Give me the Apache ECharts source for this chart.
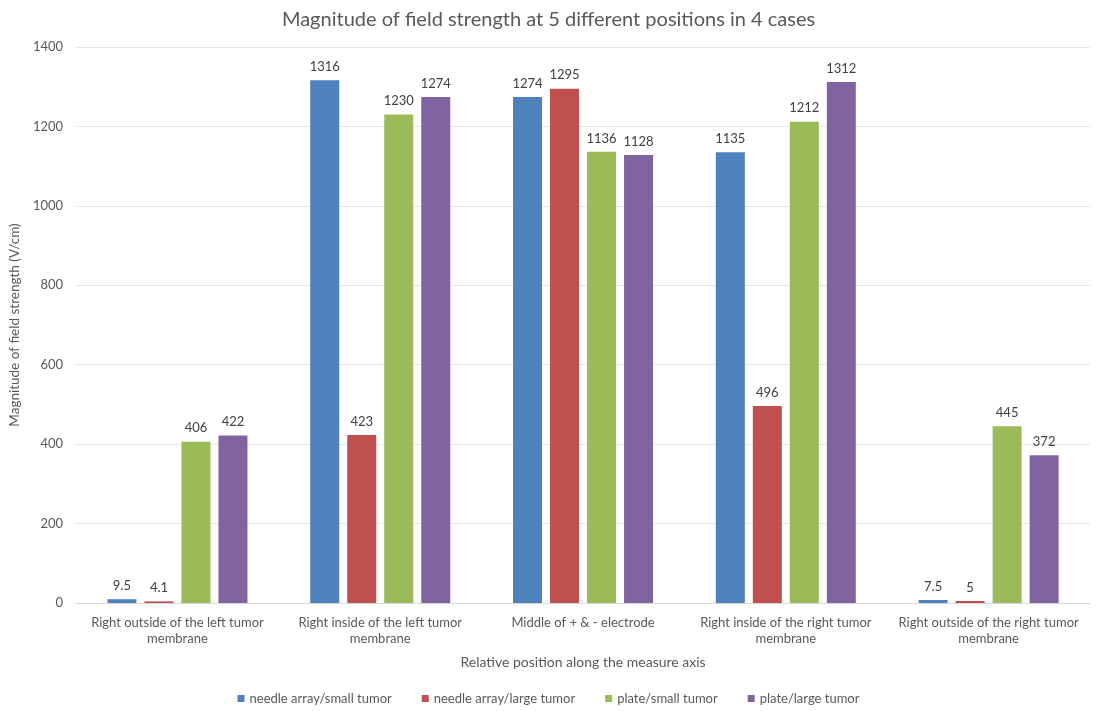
<!DOCTYPE html>
<html>
<head>
<meta charset="utf-8">
<script src="https://cdn.jsdelivr.net/npm/echarts@6/dist/echarts.min.js"></script>
<style>
  html, body { margin: 0; padding: 0; background: #fff; }
  #chart { width: 1097px; height: 711px; }
</style>
</head>
<body>
<div id="chart"></div>
<script>
// Measurement positions along the axis
const positions = [
  'Right outside of the left tumor\nmembrane',
  'Right inside of the left tumor\nmembrane',
  'Middle of + & - electrode',
  'Right inside of the right tumor\nmembrane',
  'Right outside of the right tumor\nmembrane'
];

// Field strength (V/cm) per configuration
const needleSmall = [9.5, 1316, 1274, 1135, 7.5];
const needleLarge = [4.1, 423, 1295, 496, 5];
const plateSmall  = [406, 1230, 1136, 1212, 445];
const plateLarge  = [422, 1274, 1128, 1312, 372];

const seriesNames = ['needle array/small tumor', 'needle array/large tumor', 'plate/small tumor', 'plate/large tumor'];
const seriesData = [needleSmall, needleLarge, plateSmall, plateLarge];
const colors = ['#4F81BD', '#C0504D', '#9BBB59', '#8064A2'];

const font = 'Lato, "Open Sans", sans-serif';
const textColor = '#595959';

const chart = echarts.init(document.getElementById('chart'), null, { renderer: 'canvas' });
chart.setOption({
  animation: false,
  color: colors,
  textStyle: { fontFamily: font },
  title: {
    text: 'Magnitude of field strength at 5 different positions in 4 cases',
    left: 'center',
    top: 5,
    textStyle: { fontFamily: font, fontSize: 20, fontWeight: 'normal', color: textColor }
  },
  legend: {
    bottom: 1,
    left: 'center',
    itemWidth: 7,
    itemHeight: 7,
    itemGap: 30,
    icon: 'rect',
    textStyle: { fontFamily: font, fontSize: 13, color: textColor }
  },
  grid: { left: 71, right: 7, top: 47, bottom: 108 },
  xAxis: {
    type: 'category',
    data: positions,
    name: 'Relative position along the measure axis',
    nameLocation: 'middle',
    nameGap: 52,
    nameTextStyle: { fontFamily: font, fontSize: 14, color: textColor },
    axisLine: { lineStyle: { color: '#D9D9D9' } },
    axisTick: { show: false },
    axisLabel: { fontFamily: font, fontSize: 13, color: textColor, interval: 0, lineHeight: 16, margin: 12 }
  },
  yAxis: {
    type: 'value',
    min: 0,
    max: 1400,
    interval: 200,
    name: 'Magnitude of field strength (V/cm)',
    nameLocation: 'middle',
    nameGap: 52,
    nameTextStyle: { fontFamily: font, fontSize: 13.5, color: textColor },
    axisLine: { show: false },
    axisTick: { show: false },
    splitLine: { lineStyle: { color: '#E6E6E6' } },
    axisLabel: { fontFamily: font, fontSize: 13, color: textColor, margin: 13, formatter: v => String(v) }
  },
  series: seriesNames.map((name, i) => ({
    name: name,
    type: 'bar',
    data: seriesData[i],
    barWidth: 29,
    barGap: '27.6%',
    itemStyle: { color: colors[i] },
    label: {
      show: true,
      position: 'top',
      distance: 7,
      fontFamily: font,
      fontSize: 13,
      color: '#404040'
    }
  }))
});
</script>
</body>
</html>
